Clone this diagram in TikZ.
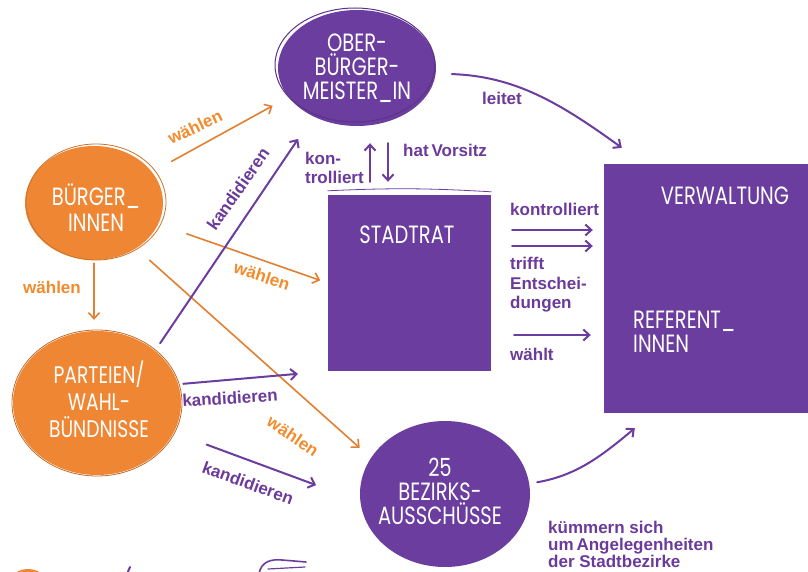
\documentclass[tikz,border=0pt]{standalone}
\usepackage{fontspec}
\setmainfont{Liberation Sans}
\newfontfamily\hand{Poppins}[FakeStretch=0.78]
\usetikzlibrary{shapes.geometric,arrows.meta}
\definecolor{lila}{HTML}{6A3D9E}
\definecolor{lilatext}{HTML}{6B3A9B}
\definecolor{orangefill}{HTML}{EE8633}
\definecolor{orangetext}{HTML}{F18B2C}
\tikzset{
	kreis/.style={ellipse, inner sep=0pt},
	kasten/.style={rectangle, fill=lila, inner sep=0pt},
	hand/.style={text=white, font=\hand\fontsize{25}{24}\selectfont, align=center, inner sep=0pt},
	lab/.style={font=\bfseries\fontsize{17}{19.5}\selectfont, align=left, inner sep=0pt},
	pfeil/.style={->, line width=2pt, lila},
	opfeil/.style={->, line width=1.6pt, orangefill!95!black},
}
\begin{document}
\begin{tikzpicture}[x=1pt,y=1pt,>={Straight Barb[length=6pt,width=11pt]}, line join=round, line cap=round]
	\useasboundingbox (0,0) rectangle (808,-572);
	% Kreise und Kaesten
	\node[kreis,fill=lila,minimum width=158pt,minimum height=116pt] (obm) at (357,-68) {};
	\node[kreis,fill=orangefill,minimum width=138pt,minimum height=114pt] (buerger) at (94,-203) {};
	\node[kreis,fill=orangefill,minimum width=168pt,minimum height=144pt] (parteien) at (97,-403) {};
	\node[kreis,fill=lila,minimum width=170pt,minimum height=146pt] (bezirke) at (445,-494) {};
	\node[kasten,minimum width=163pt,minimum height=176pt] (stadtrat) at (409.5,-283) {};
	\node[kasten,minimum width=204pt,minimum height=249pt] (verw) at (706,-288.5) {};
	% Skizzenlinien
	\draw[lila!85!black, line width=1pt] ([shift={(-2,3)}]obm.center) ellipse (80 and 57);
	\draw[orangefill!85!black, line width=0.8pt] ([shift={(2,1)}]buerger.center) ellipse (70 and 58);
	\draw[orangefill!80!black, line width=0.8pt] (parteien.center) ellipse (85 and 73);
	\draw[lila, line width=0.8pt] ([yshift=4pt]stadtrat.north west) to[bend left=3] ([yshift=3pt]stadtrat.north east);
	% Texte
	\node[hand] (obm-t) at (obm) {OBER-\\BÜRGER-\\MEISTER\_IN};
	\node[hand,font=\hand\fontsize{25}{26}\selectfont] (buerger-t) at (96,-208) {BÜRGER\_\\INNEN};
	\node[hand,font=\hand\fontsize{24}{27}\selectfont] (parteien-t) at (99,-399) {PARTEIEN/\\WAHL-\\BÜNDNISSE};
	\node[hand] (bezirke-t) at (440,-491) {25\\BEZIRKS-\\AUSSCHÜSSE};
	\node[hand] (stadtrat-t) at (407,-235) {STADTRAT};
	\node[hand] (verw-t) at (725,-196) {VERWALTUNG};
	\node[hand,align=left,anchor=west] (ref-t) at (633,-332) {REFERENT\_\\INNEN};
	% Pfeile orange
	\draw[opfeil, shorten <=22pt, shorten >=18pt] (buerger.28) -- (obm.203.5);
	\draw[opfeil, shorten <=30pt, shorten >=8pt] (buerger.-18) -- (stadtrat.west);
	\draw[opfeil, shorten <=18pt, shorten >=15pt] (buerger.-47.5) -- (bezirke.154.5);
	\draw[opfeil, shorten <=3pt, shorten >=11pt] (buerger.south) -- (buerger.south |- parteien.north);
	% Pfeile lila
	\draw[pfeil, shorten <=9pt, shorten >=27pt] (parteien.42) -- (obm.228);
	\draw[pfeil, shorten <=5pt, shorten >=30pt] (parteien.13) -- (stadtrat.south west);
	\draw[pfeil, shorten <=35pt, shorten >=47pt] (parteien.-21) -- (bezirke.185);
	\draw[pfeil] ([xshift=-39.5pt,yshift=13pt]stadtrat.north) -- ([xshift=-39.5pt,yshift=-17pt]stadtrat.north |- obm.south);
	\draw[pfeil] ([xshift=-21.5pt,yshift=-17pt]stadtrat.north |- obm.south) -- ([xshift=-21.5pt,yshift=13pt]stadtrat.north);
	\draw[pfeil, shorten <=21pt, shorten >=11pt] ([yshift=53pt]stadtrat.east) -- ([yshift=53pt]stadtrat.east -| verw.west);
	\draw[pfeil, shorten <=21pt, shorten >=11pt] ([yshift=37pt]stadtrat.east) -- ([yshift=37pt]stadtrat.east -| verw.west);
	\draw[pfeil, shorten <=23pt, shorten >=13pt] ([yshift=-52pt]stadtrat.east) -- ([yshift=-52pt]stadtrat.east -| verw.west);
	\draw[pfeil, shorten <=16pt] (obm.-4) to[out=-2,in=144] ([xshift=18pt,yshift=16pt]verw.north west);
	\draw[pfeil, shorten <=8pt] (bezirke.7) to[out=10,in=-140] ([xshift=31pt,yshift=-15pt]verw.south west);
	% Beschriftungen
	\node[lab,lilatext] (l-leitet) at (502,-98) {leitet};
	\node[lab,lilatext,anchor=west] (l-vorsitz) at (403,-150) {hat\,Vorsitz};
	\node[lab,lilatext,anchor=west] (l-kontr1) at (305,-168) {kon-\\trolliert};
	\node[lab,lilatext,anchor=west] (l-kontr2) at (510,-209) {kontrolliert};
	\node[lab,lilatext,anchor=west] (l-trifft) at (510,-285) {trifft\\Entschei-\\dungen};
	\node[lab,lilatext,anchor=west] (l-waehlt) at (510,-354) {wählt};
	\node[lab,lilatext,rotate=55] (l-kand1) at (238,-189) {kandidieren};
	\node[lab,lilatext,rotate=3.5] (l-kand2) at (230,-398) {kandidieren};
	\node[lab,lilatext,rotate=-20] (l-kand3) at (248,-483) {kandidieren};
	\node[lab,orangetext,rotate=25] (l-w1) at (195,-127) {wählen};
	\node[lab,orangetext,rotate=-18] (l-w2) at (262,-276) {wählen};
	\node[lab,orangetext,rotate=-34] (l-w3) at (293,-436) {wählen};
	\node[lab,orangetext] (l-w4) at (52,-287) {wählen};
	\node[lab,lilatext,anchor=west,font=\bfseries\fontsize{17}{17}\selectfont] (l-kuemmern) at (548,-544) {kümmern sich\\um\,Angelegenheiten\\der Stadtbezirke};
	% Reste am unteren Rand
	\fill[orangefill] (28,-590) ellipse (22 and 21);
	\draw[lila, line width=2pt] (130,-567) -- (127,-574);
	\draw[lila, line width=1.6pt] (259,-574) .. controls (261,-561) and (272,-559) .. (282,-560) -- (306,-562);
	\draw[lila, line width=1.2pt] (268,-569) -- (305,-567);
\end{tikzpicture}
\end{document}
